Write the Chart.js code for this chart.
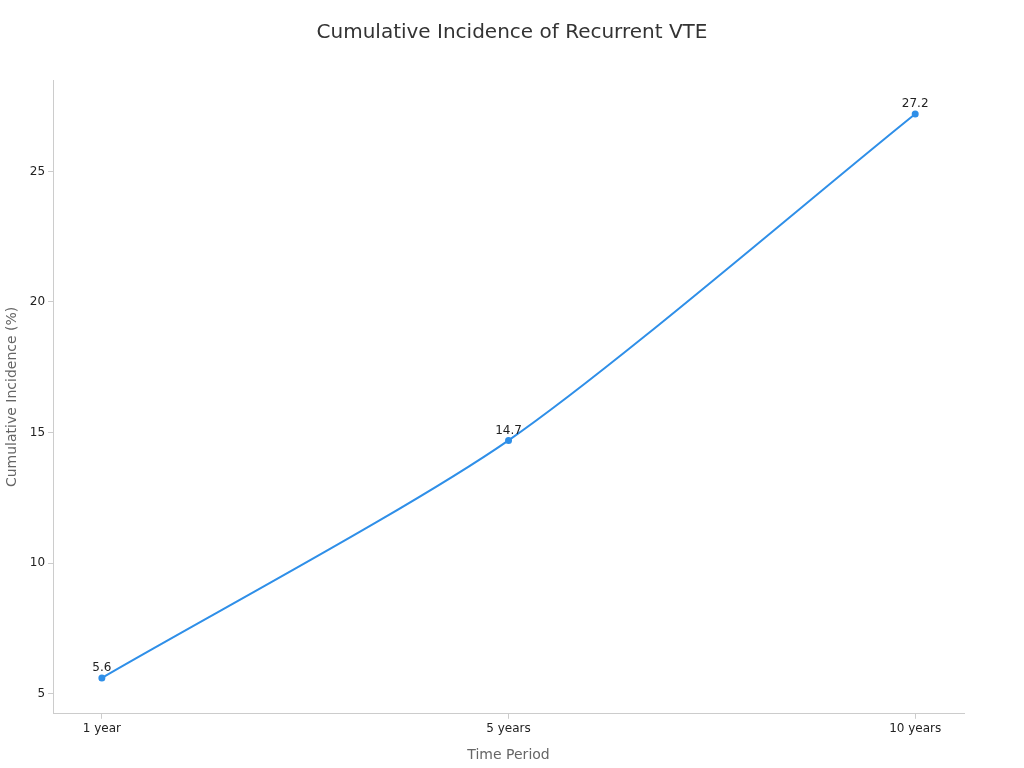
<!DOCTYPE html>
<html><head><meta charset="utf-8">
<script src="https://cdn.jsdelivr.net/npm/chart.js@4/dist/chart.umd.min.js"></script>
<style>html,body{margin:0;padding:0;background:#fff}#w{width:1024px;height:768px}</style>
</head><body><div id="w"><canvas id="c"></canvas></div>
<script>
const categories = ["1 year", "5 years", "10 years"];
const values = [5.6, 14.7, 27.2];
const yTicks = [5, 10, 15, 20, 25];
const titleText = 'Cumulative Incidence of Recurrent VTE';

const labelPlugin = {
  id: 'lbl',
  afterDatasetsDraw(chart) {
    const ctx = chart.ctx;
    const meta = chart.getDatasetMeta(0);
    ctx.save();
    ctx.font = '12px "DejaVu Sans"';
    ctx.fillStyle = '#222';
    ctx.textAlign = 'center';
    ctx.textBaseline = 'bottom';
    meta.data.forEach((p, i) => ctx.fillText(values[i].toFixed(1), p.x, p.y - 4));
    ctx.font = '20px "DejaVu Sans"';
    ctx.fillStyle = '#333';
    ctx.textBaseline = 'middle';
    ctx.fillText(titleText, chart.width / 2, 33);
    ctx.restore();
  }
};

new Chart(document.getElementById('c'), {
  type: 'line',
  data: { datasets: [{
    data: values.map((v, i) => ({x: i, y: v})),
    borderColor: '#2f8fe8', backgroundColor: '#2f8fe8',
    borderWidth: 2, pointRadius: 2.5, tension: 0.25, fill: false
  }]},
  options: {
    responsive: true, maintainAspectRatio: false, animation: false,
    layout: { padding: { left: 0, right: 60, top: 80, bottom: 0 } },
    plugins: { legend: { display: false }, tooltip: { enabled: false }, title: { display: false } },
    scales: {
      x: { type: 'linear', min: -0.12, max: 2.12,
        afterBuildTicks: s => { s.ticks = categories.map((c, i) => ({value: i})); },
        ticks: { callback: v => categories[v], color: '#222', font: { family: 'DejaVu Sans', size: 12 }, padding: 3 },
        grid: { display: true, drawOnChartArea: false, drawTicks: true, tickLength: 5, color: '#ccc' },
        border: { color: '#ccc' },
        title: { display: true, text: 'Time Period', color: '#666', font: { family: 'DejaVu Sans', size: 14 }, padding: { top: 8, bottom: 4 } }
      },
      y: { min: 4.23, max: 28.5,
        afterBuildTicks: s => { s.ticks = yTicks.map(v => ({value: v})); },
        ticks: { color: '#222', font: { family: 'DejaVu Sans', size: 12 }, padding: 3 },
        grid: { display: true, drawOnChartArea: false, tickLength: 5, color: '#ccc' },
        border: { color: '#ccc' },
        title: { display: true, text: 'Cumulative Incidence (%)', color: '#666', font: { family: 'DejaVu Sans', size: 14 }, padding: { bottom: 6 } }
      }
    }
  },
  plugins: [labelPlugin]
});
</script></body></html>
